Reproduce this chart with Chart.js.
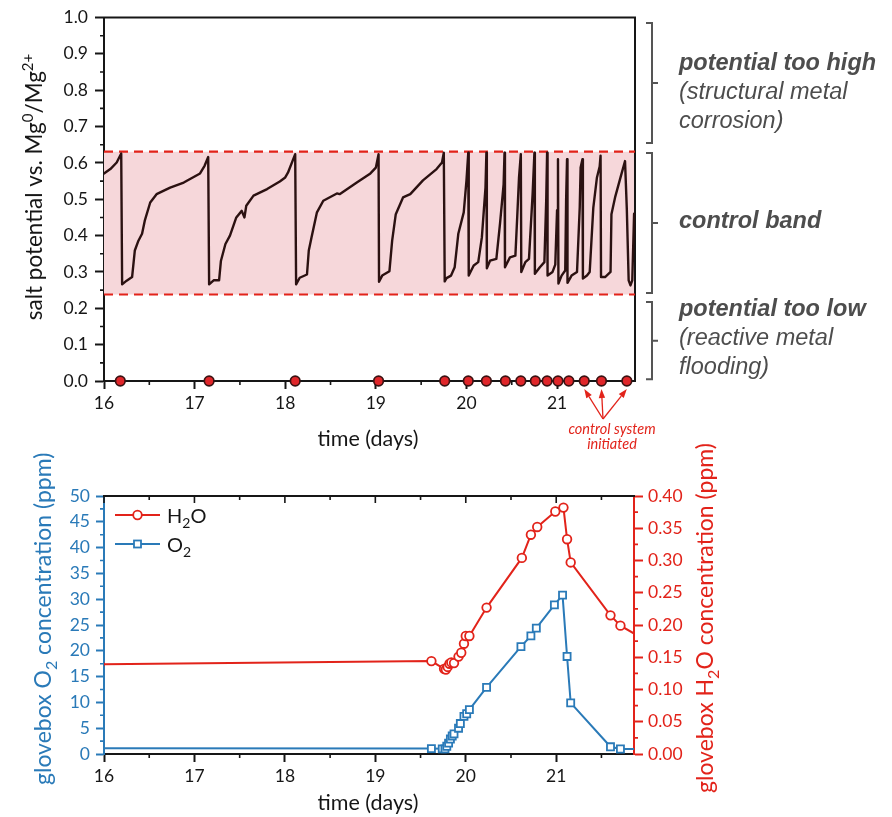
<!DOCTYPE html>
<html>
<head>
<meta charset="utf-8">
<script src="https://cdn.jsdelivr.net/npm/chart.js@4.4.0/dist/chart.umd.min.js"></script>
<style>
  body { margin: 0; background: #fff; width: 892px; height: 817px; position: relative; overflow: hidden; }
  #potChart { position: absolute; left: 0; top: 0; }
  #gasChart { position: absolute; left: 0; top: 430px; }
</style>
</head>
<body>
<canvas id="potChart" width="892" height="460"></canvas>
<canvas id="gasChart" width="892" height="387"></canvas>
<script>
const RED = '#e2231a';
const BLUE = '#2a7ab8';
const INK = '#161616';
const FONT = 'Lato, "DejaVu Sans", sans-serif';

// salt potential trace (time in days, V vs Mg0/Mg2+)
const potDays = [16.00, 16.07, 16.14, 16.19, 16.20, 16.21, 16.25, 16.31, 16.34, 16.38, 16.42, 16.45, 16.51, 16.58, 16.73, 16.88, 17.06, 17.11, 17.15,
  17.16, 17.21, 17.27, 17.29, 17.34, 17.39, 17.46, 17.52, 17.55, 17.57, 17.65, 17.80, 17.94, 18.00, 18.03, 18.11,
  18.12, 18.16, 18.24, 18.26, 18.29, 18.35, 18.42, 18.57, 18.60, 18.79, 18.94, 19.00, 19.03,
  19.035, 19.07, 19.15, 19.18, 19.22, 19.30, 19.38, 19.52, 19.67, 19.73, 19.75,
  19.76, 19.78, 19.83, 19.87, 19.91, 19.97, 20.00, 20.02,
  20.025, 20.08, 20.13, 20.17, 20.21, 20.22,
  20.225, 20.26, 20.33, 20.37, 20.41, 20.42,
  20.425, 20.48, 20.54, 20.56, 20.58, 20.60,
  20.605, 20.65, 20.69, 20.73, 20.75,
  20.755, 20.81, 20.86, 20.88, 20.89,
  20.895, 20.95, 20.98, 21.00, 21.01,
  21.015, 21.05, 21.09, 21.10, 21.11,
  21.115, 21.16, 21.22, 21.25, 21.26, 21.28,
  21.285, 21.33, 21.36, 21.40, 21.44, 21.47, 21.48,
  21.485, 21.53, 21.59, 21.60, 21.64, 21.71, 21.75,
  21.77, 21.79, 21.81, 21.83, 21.85];
const potVolts = [0.571, 0.583, 0.601, 0.626, 0.266, 0.268, 0.276, 0.286, 0.359, 0.386, 0.405, 0.441, 0.491, 0.514, 0.532, 0.546, 0.571, 0.592, 0.616,
  0.266, 0.277, 0.277, 0.330, 0.377, 0.400, 0.450, 0.468, 0.450, 0.482, 0.510, 0.528, 0.549, 0.560, 0.573, 0.624,
  0.266, 0.284, 0.293, 0.359, 0.395, 0.464, 0.496, 0.516, 0.514, 0.546, 0.571, 0.587, 0.624,
  0.273, 0.290, 0.302, 0.386, 0.459, 0.505, 0.514, 0.552, 0.583, 0.601, 0.628,
  0.274, 0.283, 0.290, 0.313, 0.405, 0.464, 0.551, 0.628,
  0.290, 0.318, 0.327, 0.395, 0.532, 0.628,
  0.310, 0.331, 0.336, 0.432, 0.541, 0.628,
  0.313, 0.340, 0.345, 0.450, 0.560, 0.624,
  0.300, 0.327, 0.336, 0.514, 0.628,
  0.295, 0.313, 0.327, 0.496, 0.628,
  0.290, 0.300, 0.320, 0.470, 0.610,
  0.268, 0.290, 0.304, 0.500, 0.610,
  0.270, 0.290, 0.300, 0.477, 0.587, 0.610,
  0.282, 0.290, 0.300, 0.477, 0.560, 0.590, 0.620,
  0.286, 0.286, 0.300, 0.459, 0.505, 0.569, 0.605,
  0.470, 0.277, 0.263, 0.277, 0.460];

// recharge events, plotted on the zero line
const chargeDays = [16.18, 17.16, 18.11, 19.03, 19.76, 20.02, 20.22, 20.43, 20.60, 20.76, 20.89, 21.01, 21.13, 21.30, 21.49, 21.77];
const autoDays = [21.30, 21.49, 21.77];

const bandLow = 0.238;
const bandHigh = 0.631;
const dayMin = 16;
const dayMax = 21.86;

const dayTicks = [16, 17, 18, 19, 20, 21];
const potTicks = [0, 0.1, 0.2, 0.3, 0.4, 0.5, 0.6, 0.7, 0.8, 0.9, 1.0];
const o2Ticks = [0, 5, 10, 15, 20, 25, 30, 35, 40, 45, 50];
const h2oTicks = [0, 0.05, 0.10, 0.15, 0.20, 0.25, 0.30, 0.35, 0.40];

// glovebox atmosphere
const h2oDays = [15.95, 19.62, 19.76, 19.78, 19.80, 19.82, 19.84, 19.87, 19.92, 19.95, 19.98, 20.00, 20.04, 20.23, 20.62, 20.72, 20.79, 20.99, 21.08, 21.12, 21.16, 21.60, 21.71, 21.92];
const h2oPpm = [0.139, 0.144, 0.132, 0.131, 0.135, 0.140, 0.142, 0.141, 0.151, 0.157, 0.171, 0.183, 0.183, 0.227, 0.304, 0.340, 0.352, 0.376, 0.382, 0.333, 0.297, 0.215, 0.199, 0.182];
const o2Days = [15.95, 19.62, 19.74, 19.77, 19.79, 19.81, 19.83, 19.85, 19.87, 19.92, 19.94, 19.98, 20.01, 20.04, 20.23, 20.61, 20.72, 20.78, 20.98, 21.07, 21.12, 21.16, 21.60, 21.71, 21.92];
const o2Ppm = [1.1, 1.05, 1.0, 1.0, 1.5, 2.1, 2.9, 3.5, 3.9, 5.0, 5.9, 7.3, 7.8, 8.6, 12.9, 20.8, 22.9, 24.4, 28.9, 30.8, 18.9, 9.9, 1.4, 0.97, 1.0];

const pts = (xs, ys) => xs.map((x, i) => ({ x: x, y: ys[i] }));
const useTicks = arr => scale => { scale.ticks = arr.map(v => ({ value: v })); };

// text with super/subscript runs: [text, 1 = sup, -1 = sub]
function richText(ctx, runs, x, y, o) {
  const size = o.size, small = Math.round(size * 0.68);
  ctx.save();
  ctx.translate(x, y);
  ctx.rotate(o.rot || 0);
  ctx.fillStyle = o.color || INK;
  ctx.textBaseline = 'alphabetic';
  ctx.textAlign = 'left';
  const font = s => (o.style || '') + ' ' + s + 'px ' + (o.family || FONT);
  let w = 0;
  runs.forEach(([t, k]) => { ctx.font = font(k ? small : size); w += ctx.measureText(t).width; });
  let cx = o.align === 'start' ? 0 : -w / 2;
  runs.forEach(([t, k]) => {
    ctx.font = font(k ? small : size);
    ctx.fillText(t, cx, k > 0 ? -size * 0.42 : k < 0 ? size * 0.24 : 0);
    cx += ctx.measureText(t).width;
  });
  ctx.restore();
}

// box sides and the small ticks chart.js has no option for
const frame = {
  id: 'frame',
  beforeDatasetsDraw(chart, args, o) {
    const { ctx, chartArea: a } = chart;
    ctx.save();
    ctx.lineWidth = 2;
    ctx.strokeStyle = INK;
    ctx.beginPath();
    (o.sides || []).forEach(side => {
      if (side === 'top') { ctx.moveTo(a.left - 1, a.top); ctx.lineTo(a.right + 1, a.top); }
      if (side === 'right') { ctx.moveTo(a.right, a.top - 1); ctx.lineTo(a.right, a.bottom); }
    });
    ctx.stroke();
    (o.ticks || []).forEach(t => {
      const s = chart.scales[t.scale];
      ctx.strokeStyle = t.color || INK;
      ctx.lineWidth = 1.6;
      ctx.beginPath();
      const n = Math.floor((s.max - s.min) / t.step + 1e-6);
      for (let i = 0; i <= n; i++) {
        const v = s.min + i * t.step;
        if (t.skip && Math.abs(v / t.skip - Math.round(v / t.skip)) < 1e-6) continue;
        const p = s.getPixelForValue(v);
        if (s.isHorizontal()) {
          const y0 = t.edge === 'top' ? a.top : a.bottom;
          ctx.moveTo(p, y0); ctx.lineTo(p, y0 + t.len);
        } else {
          const x0 = t.edge === 'right' ? a.right : a.left;
          ctx.moveTo(x0, p); ctx.lineTo(x0 + t.len, p);
        }
      }
      ctx.stroke();
    });
    ctx.restore();
  }
};

const potNotes = {
  id: 'potNotes',
  afterDraw(chart) {
    const { ctx, scales: { x, y } } = chart;
    richText(ctx, [['salt potential vs. Mg', 0], ['0', 1], ['/Mg', 0], ['2+', 1]], 42, 187, { size: 22.5, rot: -Math.PI / 2 });
    richText(ctx, [['time (days)', 0]], 368, 446, { size: 21.5 });

    // brackets for the three potential regions
    ctx.save();
    ctx.strokeStyle = '#555';
    ctx.lineWidth = 2;
    [[0.985, 0.655], [0.627, 0.242], [0.217, 0.005]].forEach(([hi, lo]) => {
      const t = y.getPixelForValue(hi), b = y.getPixelForValue(lo), m = (t + b) / 2;
      ctx.beginPath();
      ctx.moveTo(646, t); ctx.lineTo(652, t); ctx.lineTo(652, b); ctx.lineTo(646, b);
      ctx.moveTo(652, m); ctx.lineTo(658, m);
      ctx.stroke();
    });
    ctx.fillStyle = '#4d4d4d';
    ctx.textAlign = 'left';
    ctx.textBaseline = 'alphabetic';
    const bold = 'italic bold 23.5px "Liberation Sans", Arial, sans-serif';
    const ital = 'italic 23.5px "Liberation Sans", Arial, sans-serif';
    [[bold, 'potential too high', 70], [ital, '(structural metal', 99], [ital, 'corrosion)', 128],
     [bold, 'control band', 228], [bold, 'potential too low', 316], [ital, '(reactive metal', 345], [ital, 'flooding)', 374]]
      .forEach(([f, t, by]) => { ctx.font = f; ctx.fillText(t, 679, by); });

    // arrows to the automatic recharges
    ctx.strokeStyle = RED;
    ctx.fillStyle = RED;
    ctx.lineWidth = 1.3;
    const tx = 603, ty = 419;
    autoDays.forEach(d => {
      const px = x.getPixelForValue(d), py = y.getPixelForValue(0) + 8;
      const ang = Math.atan2(py - ty, px - tx);
      const hx = px - 9 * Math.cos(ang), hy = py - 9 * Math.sin(ang);
      ctx.beginPath(); ctx.moveTo(tx, ty); ctx.lineTo(hx, hy); ctx.stroke();
      ctx.beginPath();
      ctx.moveTo(px, py);
      ctx.lineTo(hx + 3.2 * Math.sin(ang), hy - 3.2 * Math.cos(ang));
      ctx.lineTo(hx - 3.2 * Math.sin(ang), hy + 3.2 * Math.cos(ang));
      ctx.closePath(); ctx.fill();
    });
    ctx.font = 'italic 14.5px ' + FONT;
    ctx.textAlign = 'center';
    ctx.fillText('control system', 612, 434);
    ctx.fillText('initiated', 612, 449);
    ctx.restore();
  }
};

const gasNotes = {
  id: 'gasNotes',
  afterDraw(chart) {
    const { ctx } = chart;
    richText(ctx, [['glovebox O', 0], ['2', -1], [' concentration (ppm)', 0]], 51, 355, { size: 23, rot: -Math.PI / 2, align: 'start', color: BLUE });
    richText(ctx, [['glovebox H', 0], ['2', -1], ['O concentration (ppm)', 0]], 713, 363, { size: 23, rot: -Math.PI / 2, align: 'start', color: RED });
    richText(ctx, [['time (days)', 0]], 368, 380, { size: 21.5 });

    // legend
    ctx.save();
    ctx.lineWidth = 2;
    ctx.strokeStyle = RED;
    ctx.beginPath(); ctx.moveTo(115, 85); ctx.lineTo(160, 85); ctx.stroke();
    ctx.fillStyle = '#fff';
    ctx.lineWidth = 1.8;
    ctx.beginPath(); ctx.arc(137.5, 85, 4.3, 0, Math.PI * 2); ctx.fill(); ctx.stroke();
    ctx.strokeStyle = BLUE;
    ctx.lineWidth = 2;
    ctx.beginPath(); ctx.moveTo(115, 114); ctx.lineTo(160, 114); ctx.stroke();
    ctx.lineWidth = 1.8;
    ctx.fillRect(134, 110.5, 7, 7); ctx.strokeRect(134, 110.5, 7, 7);
    ctx.restore();
    richText(ctx, [['H', 0], ['2', -1], ['O', 0]], 167, 93, { size: 20, align: 'start' });
    richText(ctx, [['O', 0], ['2', -1]], 167, 122, { size: 20, align: 'start' });
  }
};

const tickFont = { family: FONT, size: 17.5 };

new Chart(document.getElementById('potChart'), {
  type: 'line',
  data: {
    datasets: [
      { label: 'recharge', data: chargeDays.map(d => ({ x: d, y: 0 })), showLine: false, pointRadius: 4.8,
        pointBackgroundColor: '#e0262a', pointBorderColor: '#3a1212', pointBorderWidth: 1.7, clip: false, order: 0 },
      { label: 'salt potential', data: pts(potDays, potVolts), borderColor: '#2b1111', borderWidth: 2.4,
        borderJoinStyle: 'round', borderCapStyle: 'round', pointRadius: 0, order: 1 },
      { label: 'band top', data: [{ x: dayMin, y: bandHigh }, { x: dayMax, y: bandHigh }], borderColor: RED,
        borderWidth: 2.2, borderDash: [9, 6], pointRadius: 0, order: 3 },
      { label: 'band bottom', data: [{ x: dayMin, y: bandLow }, { x: dayMax, y: bandLow }], borderColor: RED,
        borderWidth: 2.2, borderDash: [9, 6], pointRadius: 0, fill: '-1', backgroundColor: '#f6d7da', order: 2 }
    ]
  },
  options: {
    responsive: false,
    animation: false,
    events: [],
    layout: { padding: { top: 16, right: 257, left: 0, bottom: 0 } },
    plugins: {
      legend: { display: false },
      tooltip: { enabled: false },
      filler: { drawTime: 'beforeDatasetsDraw' },
      frame: {
        sides: ['top', 'right'],
        ticks: [
          { scale: 'x', step: 0.5, skip: 1, edge: 'bottom', len: 4 },
          { scale: 'y', step: 0.05, skip: 0.1, edge: 'left', len: -4 }
        ]
      }
    },
    scales: {
      x: {
        type: 'linear', min: dayMin, max: dayMax,
        afterBuildTicks: useTicks(dayTicks),
        afterFit: s => { s.height = 79; },
        ticks: { font: tickFont, color: INK, padding: 4, callback: v => String(v) },
        grid: { drawOnChartArea: false, tickLength: 8, tickWidth: 2, tickColor: INK },
        border: { color: INK, width: 2 }
      },
      y: {
        min: 0, max: 1,
        afterBuildTicks: useTicks(potTicks),
        afterFit: s => { s.width = 104; },
        ticks: { font: tickFont, color: INK, padding: 7, callback: v => v.toFixed(1) },
        grid: { drawOnChartArea: false, tickLength: 9, tickWidth: 2, tickColor: INK },
        border: { color: INK, width: 2 }
      }
    }
  },
  plugins: [frame, potNotes]
});

new Chart(document.getElementById('gasChart'), {
  type: 'line',
  data: {
    datasets: [
      { label: 'H2O', yAxisID: 'y1', data: pts(h2oDays, h2oPpm), borderColor: RED, borderWidth: 2,
        pointStyle: 'circle', pointRadius: 4.3, pointBorderWidth: 1.8, pointBackgroundColor: '#fff', pointBorderColor: RED },
      { label: 'O2', yAxisID: 'y', data: pts(o2Days, o2Ppm), borderColor: BLUE, borderWidth: 2,
        pointStyle: 'rect', pointRadius: 5, pointBorderWidth: 1.8, pointBackgroundColor: '#fff', pointBorderColor: BLUE }
    ]
  },
  options: {
    responsive: false,
    animation: false,
    events: [],
    layout: { padding: { top: 66, right: 0, left: 0, bottom: 0 } },
    plugins: {
      legend: { display: false },
      tooltip: { enabled: false },
      frame: {
        sides: ['top'],
        ticks: [
          { scale: 'x', step: 0.5, skip: 1, edge: 'bottom', len: 4 },
          { scale: 'x', step: 1, edge: 'top', len: 7 },
          { scale: 'x', step: 0.5, skip: 1, edge: 'top', len: 4 },
          { scale: 'y', step: 2.5, skip: 5, edge: 'left', len: -4, color: BLUE },
          { scale: 'y1', step: 0.025, skip: 0.05, edge: 'right', len: 4, color: RED }
        ]
      }
    },
    scales: {
      x: {
        type: 'linear', min: dayMin, max: dayMax,
        afterBuildTicks: useTicks(dayTicks),
        afterFit: s => { s.height = 63; },
        ticks: { font: tickFont, color: INK, padding: 4, callback: v => String(v) },
        grid: { drawOnChartArea: false, tickLength: 8, tickWidth: 2, tickColor: INK },
        border: { color: INK, width: 2 }
      },
      y: {
        position: 'left', min: 0, max: 50,
        afterBuildTicks: useTicks(o2Ticks),
        afterFit: s => { s.width = 104; },
        ticks: { font: tickFont, color: BLUE, padding: 6, callback: v => String(v) },
        grid: { drawOnChartArea: false, tickLength: 8, tickWidth: 2, tickColor: BLUE },
        border: { color: BLUE, width: 2 }
      },
      y1: {
        position: 'right', min: 0, max: 0.4,
        afterBuildTicks: useTicks(h2oTicks),
        afterFit: s => { s.width = 258; },
        ticks: { font: tickFont, color: RED, padding: 5, callback: v => v.toFixed(2) },
        grid: { drawOnChartArea: false, tickLength: 9, tickWidth: 2, tickColor: RED },
        border: { color: RED, width: 2 }
      }
    }
  },
  plugins: [frame, gasNotes]
});
</script>
</body>
</html>
